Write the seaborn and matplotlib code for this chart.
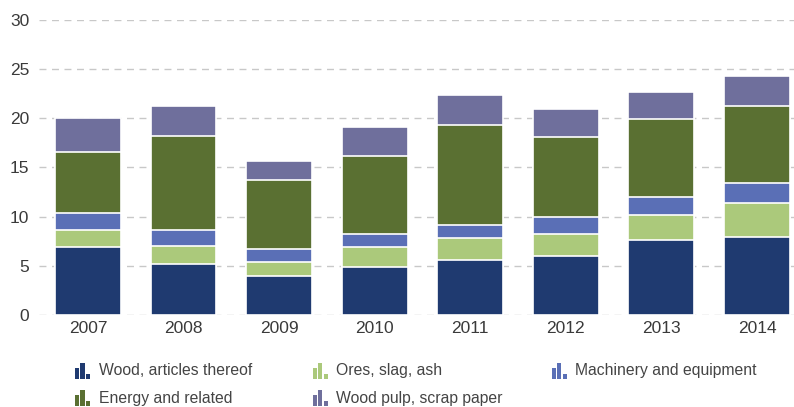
import matplotlib
matplotlib.use("Agg")
import matplotlib.pyplot as plt
import seaborn as sns
import numpy as np
import pandas as pd
from matplotlib.patches import Rectangle
from matplotlib.legend_handler import HandlerBase

years = ['2007', '2008', '2009', '2010', '2011', '2012', '2013', '2014']
wood = [6.95, 5.2, 4.0, 4.9, 5.6, 6.0, 7.6, 7.9]
ores = [1.7, 1.85, 1.35, 2.0, 2.25, 2.25, 2.55, 3.5]
machinery = [1.75, 1.6, 1.4, 1.35, 1.3, 1.75, 1.8, 2.05]
energy = [6.15, 9.6, 6.95, 7.95, 10.15, 8.1, 7.95, 7.85]
pulp = [3.45, 2.95, 2.0, 2.9, 3.1, 2.8, 2.8, 3.05]

names = ['Wood, articles thereof', 'Ores, slag, ash', 'Machinery and equipment',
         'Energy and related', 'Wood pulp, scrap paper']
colors = ['#1f3a70', '#abc97b', '#5a6fb6', '#5a7032', '#6f6f9c']

df = pd.DataFrame({names[0]: wood, names[1]: ores, names[2]: machinery,
                   names[3]: energy, names[4]: pulp}, index=years)
cum = df.cumsum(axis=1)


class BarIcon(HandlerBase):
    # little bar-chart glyph like the original legend
    def create_artists(self, legend, orig_handle, xdescent, ydescent,
                       width, height, fontsize, trans):
        c = orig_handle.get_facecolor()
        w = width * 0.28
        arts = []
        for i, h in enumerate([1.0, 1.45, 0.45]):
            r = Rectangle((-xdescent + i * width * 0.36, -ydescent - 2.5), w, height * h,
                          facecolor=c, edgecolor='none', transform=trans)
            arts.append(r)
        return arts


sns.set_style('white')
plt.rcParams['font.family'] = ['Liberation Sans', 'DejaVu Sans']

fig = plt.figure(figsize=(7.94, 4.07), dpi=100)
ax = fig.add_axes([0.049, 0.226, 0.951, 0.725])

for i in reversed(range(len(names))):
    sns.barplot(x=years, y=cum[names[i]].values, color=colors[i], ax=ax,
                width=0.69, edgecolor='white', linewidth=1.2, saturation=1,
                zorder=3)

ax.set_ylim(0, 30)
ax.set_xlim(-0.513, 7.387)
ax.set_yticks(range(0, 31, 5))
ax.yaxis.grid(True, linestyle=(0, (5, 4)), color='#c8c8c8', linewidth=1, zorder=0)
ax.set_axisbelow(True)
for s in ax.spines.values():
    s.set_visible(False)
ax.tick_params(axis='both', length=0, labelsize=12.5, labelcolor='#3a3a3a')
ax.tick_params(axis='y', pad=7)
ax.tick_params(axis='x', pad=4)

# legend: three fixed columns, row-major order as in the original
handles = [Rectangle((0, 0), 1, 1, facecolor=c) for c in colors]
cols = [[0, 3], [1, 4], [2]]
col_x = [0.0945, 0.394, 0.695]
for idx, x0 in zip(cols, col_x):
    leg = fig.legend([handles[i] for i in idx], [names[i] for i in idx],
                     loc='upper left', bbox_to_anchor=(x0, 0.108), ncol=1,
                     frameon=False, fontsize=11.3, handler_map={Rectangle: BarIcon()},
                     handlelength=0.95, handletextpad=0.55,
                     labelspacing=0.82, borderaxespad=0, borderpad=0)
    for t in leg.get_texts():
        t.set_color('#444444')

fig.savefig('out.png', dpi=100)
